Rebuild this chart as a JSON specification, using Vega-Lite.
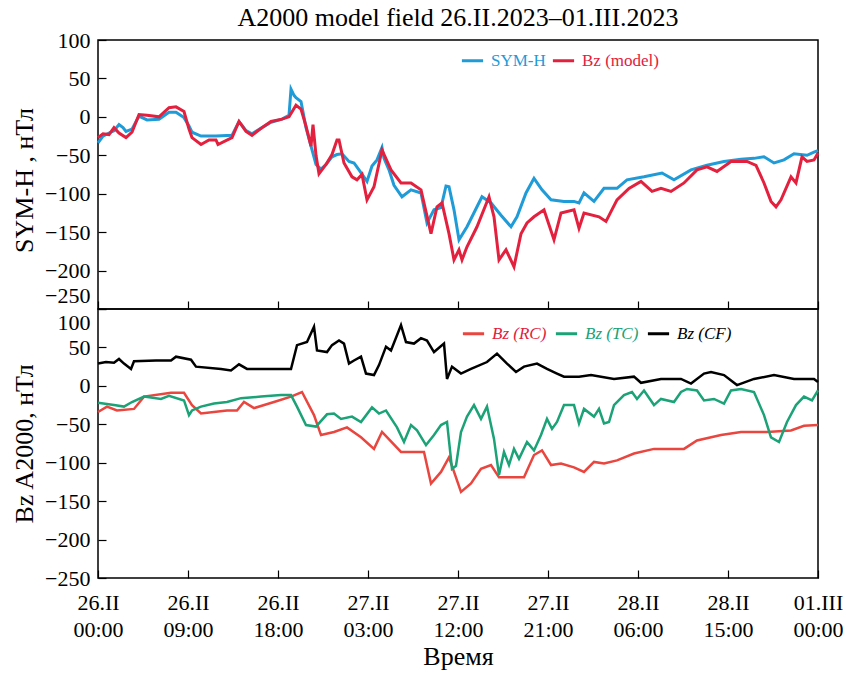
{
 "$schema": "https://vega.github.io/schema/vega-lite/v6.json",
 "background": "white",
 "padding": {"left": 10, "top": 5, "right": 5, "bottom": 0},
 "title": {"text": "A2000 model field 26.II.2023–01.III.2023", "font": "Liberation Serif", "fontSize": 26, "fontWeight": "normal", "anchor": "middle", "frame": "group", "offset": -3, "color": "black"},
 "config": {
  "font": "Liberation Serif",
  "view": {"stroke": "black", "strokeWidth": 1.5},
  "axis": {"domain": false, "grid": false, "tickColor": "black", "tickWidth": 1.2, "tickSize": -8, "labelColor": "black", "titleColor": "black", "labelFont": "Liberation Serif", "titleFont": "Liberation Serif", "labelFontSize": 22, "titleFontSize": 26, "titleFontWeight": "normal", "labelOverlap": false, "labelFlush": false},
  "legend": {"orient": "none", "direction": "horizontal", "title": null, "symbolType": "stroke", "symbolStrokeWidth": 3, "symbolSize": 450, "labelFont": "Liberation Serif", "labelFontSize": 17, "labelOffset": 6}
 },
 "datasets": {
  "top": [
   {"h":0,"s":"SYM-H","v":-34},{"h":0.5,"s":"SYM-H","v":-25},{"h":1.1,"s":"SYM-H","v":-21},{"h":1.6,"s":"SYM-H","v":-18},{"h":2.1,"s":"SYM-H","v":-10},{"h":2.5,"s":"SYM-H","v":-14},{"h":2.8,"s":"SYM-H","v":-19},{"h":3.4,"s":"SYM-H","v":-16},{"h":4.1,"s":"SYM-H","v":1},{"h":4.9,"s":"SYM-H","v":-4},{"h":6.1,"s":"SYM-H","v":-3},{"h":7.1,"s":"SYM-H","v":6},{"h":7.8,"s":"SYM-H","v":6},{"h":8.6,"s":"SYM-H","v":-1},{"h":9.1,"s":"SYM-H","v":-12},{"h":9.4,"s":"SYM-H","v":-20},{"h":10.3,"s":"SYM-H","v":-25},{"h":11.8,"s":"SYM-H","v":-25},{"h":13.4,"s":"SYM-H","v":-24},{"h":14.1,"s":"SYM-H","v":-6},{"h":14.8,"s":"SYM-H","v":-18},{"h":15.4,"s":"SYM-H","v":-22},{"h":16.4,"s":"SYM-H","v":-14},{"h":17.3,"s":"SYM-H","v":-7},{"h":18.4,"s":"SYM-H","v":-3},{"h":19.1,"s":"SYM-H","v":2},{"h":19.3,"s":"SYM-H","v":36},{"h":19.6,"s":"SYM-H","v":28},{"h":19.8,"s":"SYM-H","v":25},{"h":20.3,"s":"SYM-H","v":20},{"h":20.8,"s":"SYM-H","v":-14},{"h":21.3,"s":"SYM-H","v":-38},{"h":21.8,"s":"SYM-H","v":-62},{"h":22.3,"s":"SYM-H","v":-68},{"h":22.8,"s":"SYM-H","v":-62},{"h":23.4,"s":"SYM-H","v":-52},{"h":23.9,"s":"SYM-H","v":-49},{"h":24.4,"s":"SYM-H","v":-48},{"h":25.1,"s":"SYM-H","v":-58},{"h":25.6,"s":"SYM-H","v":-60},{"h":26.1,"s":"SYM-H","v":-69},{"h":26.9,"s":"SYM-H","v":-84},{"h":27.4,"s":"SYM-H","v":-64},{"h":27.9,"s":"SYM-H","v":-56},{"h":28.4,"s":"SYM-H","v":-40},{"h":28.6,"s":"SYM-H","v":-54},{"h":29.1,"s":"SYM-H","v":-69},{"h":29.6,"s":"SYM-H","v":-89},{"h":30.4,"s":"SYM-H","v":-104},{"h":31.3,"s":"SYM-H","v":-95},{"h":32.3,"s":"SYM-H","v":-99},{"h":32.9,"s":"SYM-H","v":-138},{"h":33.6,"s":"SYM-H","v":-121},{"h":34.3,"s":"SYM-H","v":-118},{"h":34.8,"s":"SYM-H","v":-90},{"h":35.1,"s":"SYM-H","v":-91},{"h":35.6,"s":"SYM-H","v":-121},{"h":36.1,"s":"SYM-H","v":-160},{"h":36.9,"s":"SYM-H","v":-143},{"h":37.4,"s":"SYM-H","v":-130},{"h":37.9,"s":"SYM-H","v":-117},{"h":38.4,"s":"SYM-H","v":-104},{"h":39.3,"s":"SYM-H","v":-112},{"h":40.3,"s":"SYM-H","v":-128},{"h":41.3,"s":"SYM-H","v":-143},{"h":41.9,"s":"SYM-H","v":-130},{"h":42.8,"s":"SYM-H","v":-99},{"h":43.6,"s":"SYM-H","v":-80},{"h":44.4,"s":"SYM-H","v":-95},{"h":45.3,"s":"SYM-H","v":-108},{"h":46.6,"s":"SYM-H","v":-110},{"h":47.6,"s":"SYM-H","v":-110},{"h":48.1,"s":"SYM-H","v":-112},{"h":48.6,"s":"SYM-H","v":-99},{"h":49.6,"s":"SYM-H","v":-110},{"h":50.6,"s":"SYM-H","v":-93},{"h":51.9,"s":"SYM-H","v":-93},{"h":52.9,"s":"SYM-H","v":-82},{"h":54.6,"s":"SYM-H","v":-78},{"h":56.4,"s":"SYM-H","v":-73},{"h":57.6,"s":"SYM-H","v":-82},{"h":59.3,"s":"SYM-H","v":-69},{"h":60.9,"s":"SYM-H","v":-63},{"h":62.6,"s":"SYM-H","v":-58},{"h":64.3,"s":"SYM-H","v":-55},{"h":65.6,"s":"SYM-H","v":-54},{"h":66.6,"s":"SYM-H","v":-52},{"h":67.6,"s":"SYM-H","v":-60},{"h":68.6,"s":"SYM-H","v":-56},{"h":69.6,"s":"SYM-H","v":-48},{"h":70.9,"s":"SYM-H","v":-50},{"h":71.6,"s":"SYM-H","v":-46},{"h":72,"s":"SYM-H","v":-44},
   {"h":0,"s":"Bz (model)","v":-27},{"h":0.5,"s":"Bz (model)","v":-22},{"h":1.1,"s":"Bz (model)","v":-23},{"h":1.6,"s":"Bz (model)","v":-14},{"h":2.1,"s":"Bz (model)","v":-21},{"h":2.8,"s":"Bz (model)","v":-27},{"h":3.4,"s":"Bz (model)","v":-20},{"h":4.1,"s":"Bz (model)","v":3},{"h":4.9,"s":"Bz (model)","v":2},{"h":6.1,"s":"Bz (model)","v":0},{"h":7.1,"s":"Bz (model)","v":12},{"h":7.8,"s":"Bz (model)","v":13},{"h":8.6,"s":"Bz (model)","v":7},{"h":9.1,"s":"Bz (model)","v":-16},{"h":9.4,"s":"Bz (model)","v":-27},{"h":10.3,"s":"Bz (model)","v":-36},{"h":11.1,"s":"Bz (model)","v":-30},{"h":11.8,"s":"Bz (model)","v":-30},{"h":12.0,"s":"Bz (model)","v":-36},{"h":13.4,"s":"Bz (model)","v":-27},{"h":14.1,"s":"Bz (model)","v":-6},{"h":14.8,"s":"Bz (model)","v":-19},{"h":15.4,"s":"Bz (model)","v":-24},{"h":16.4,"s":"Bz (model)","v":-14},{"h":17.3,"s":"Bz (model)","v":-6},{"h":18.4,"s":"Bz (model)","v":-3},{"h":19.1,"s":"Bz (model)","v":0},{"h":19.8,"s":"Bz (model)","v":15},{"h":20.3,"s":"Bz (model)","v":10},{"h":20.8,"s":"Bz (model)","v":-12},{"h":21.3,"s":"Bz (model)","v":-38},{"h":21.5,"s":"Bz (model)","v":-10},{"h":21.8,"s":"Bz (model)","v":-50},{"h":22.1,"s":"Bz (model)","v":-74},{"h":22.8,"s":"Bz (model)","v":-62},{"h":23.4,"s":"Bz (model)","v":-49},{"h":23.9,"s":"Bz (model)","v":-30},{"h":24.1,"s":"Bz (model)","v":-30},{"h":24.6,"s":"Bz (model)","v":-60},{"h":25.4,"s":"Bz (model)","v":-78},{"h":25.9,"s":"Bz (model)","v":-82},{"h":26.4,"s":"Bz (model)","v":-75},{"h":26.9,"s":"Bz (model)","v":-108},{"h":27.6,"s":"Bz (model)","v":-91},{"h":28.4,"s":"Bz (model)","v":-43},{"h":29.3,"s":"Bz (model)","v":-69},{"h":30.3,"s":"Bz (model)","v":-86},{"h":31.3,"s":"Bz (model)","v":-86},{"h":32.3,"s":"Bz (model)","v":-95},{"h":33.3,"s":"Bz (model)","v":-152},{"h":33.9,"s":"Bz (model)","v":-117},{"h":34.4,"s":"Bz (model)","v":-112},{"h":35.1,"s":"Bz (model)","v":-152},{"h":35.6,"s":"Bz (model)","v":-186},{"h":36.1,"s":"Bz (model)","v":-173},{"h":36.4,"s":"Bz (model)","v":-186},{"h":36.9,"s":"Bz (model)","v":-169},{"h":37.9,"s":"Bz (model)","v":-143},{"h":39.1,"s":"Bz (model)","v":-104},{"h":39.6,"s":"Bz (model)","v":-130},{"h":40.1,"s":"Bz (model)","v":-186},{"h":40.8,"s":"Bz (model)","v":-173},{"h":41.6,"s":"Bz (model)","v":-195},{"h":42.3,"s":"Bz (model)","v":-152},{"h":42.9,"s":"Bz (model)","v":-138},{"h":43.6,"s":"Bz (model)","v":-130},{"h":44.6,"s":"Bz (model)","v":-121},{"h":45.6,"s":"Bz (model)","v":-160},{"h":46.3,"s":"Bz (model)","v":-125},{"h":47.6,"s":"Bz (model)","v":-121},{"h":48.1,"s":"Bz (model)","v":-145},{"h":48.6,"s":"Bz (model)","v":-125},{"h":50.1,"s":"Bz (model)","v":-130},{"h":50.8,"s":"Bz (model)","v":-136},{"h":51.9,"s":"Bz (model)","v":-108},{"h":53.1,"s":"Bz (model)","v":-93},{"h":54.3,"s":"Bz (model)","v":-84},{"h":55.4,"s":"Bz (model)","v":-97},{"h":56.3,"s":"Bz (model)","v":-93},{"h":57.3,"s":"Bz (model)","v":-97},{"h":58.6,"s":"Bz (model)","v":-86},{"h":59.9,"s":"Bz (model)","v":-69},{"h":60.9,"s":"Bz (model)","v":-65},{"h":61.9,"s":"Bz (model)","v":-71},{"h":63.3,"s":"Bz (model)","v":-58},{"h":64.9,"s":"Bz (model)","v":-58},{"h":65.8,"s":"Bz (model)","v":-63},{"h":66.6,"s":"Bz (model)","v":-86},{"h":67.3,"s":"Bz (model)","v":-110},{"h":67.8,"s":"Bz (model)","v":-117},{"h":68.3,"s":"Bz (model)","v":-108},{"h":69.3,"s":"Bz (model)","v":-78},{"h":69.8,"s":"Bz (model)","v":-86},{"h":70.4,"s":"Bz (model)","v":-52},{"h":70.9,"s":"Bz (model)","v":-58},{"h":71.6,"s":"Bz (model)","v":-56},{"h":72,"s":"Bz (model)","v":-47}
  ],
  "bottom": [
   {"h":0,"s":"Bz (RC)","v":-34},{"h":0.9,"s":"Bz (RC)","v":-27},{"h":1.9,"s":"Bz (RC)","v":-32},{"h":3.6,"s":"Bz (RC)","v":-30},{"h":4.6,"s":"Bz (RC)","v":-14},{"h":7.3,"s":"Bz (RC)","v":-9},{"h":8.6,"s":"Bz (RC)","v":-9},{"h":9.4,"s":"Bz (RC)","v":-25},{"h":10.3,"s":"Bz (RC)","v":-36},{"h":12.9,"s":"Bz (RC)","v":-32},{"h":13.9,"s":"Bz (RC)","v":-32},{"h":14.6,"s":"Bz (RC)","v":-21},{"h":15.6,"s":"Bz (RC)","v":-29},{"h":17.6,"s":"Bz (RC)","v":-21},{"h":19.3,"s":"Bz (RC)","v":-14},{"h":20.4,"s":"Bz (RC)","v":-8},{"h":21.6,"s":"Bz (RC)","v":-38},{"h":22.3,"s":"Bz (RC)","v":-64},{"h":23.6,"s":"Bz (RC)","v":-60},{"h":24.9,"s":"Bz (RC)","v":-54},{"h":26.3,"s":"Bz (RC)","v":-67},{"h":27.6,"s":"Bz (RC)","v":-82},{"h":28.4,"s":"Bz (RC)","v":-60},{"h":30.3,"s":"Bz (RC)","v":-86},{"h":32.6,"s":"Bz (RC)","v":-86},{"h":33.3,"s":"Bz (RC)","v":-127},{"h":34.3,"s":"Bz (RC)","v":-112},{"h":35.1,"s":"Bz (RC)","v":-93},{"h":36.3,"s":"Bz (RC)","v":-138},{"h":37.3,"s":"Bz (RC)","v":-127},{"h":38.3,"s":"Bz (RC)","v":-108},{"h":39.3,"s":"Bz (RC)","v":-103},{"h":40.1,"s":"Bz (RC)","v":-119},{"h":42.6,"s":"Bz (RC)","v":-119},{"h":43.6,"s":"Bz (RC)","v":-90},{"h":44.4,"s":"Bz (RC)","v":-84},{"h":45.3,"s":"Bz (RC)","v":-103},{"h":46.3,"s":"Bz (RC)","v":-101},{"h":47.6,"s":"Bz (RC)","v":-106},{"h":48.6,"s":"Bz (RC)","v":-112},{"h":49.6,"s":"Bz (RC)","v":-99},{"h":50.6,"s":"Bz (RC)","v":-101},{"h":51.9,"s":"Bz (RC)","v":-97},{"h":53.6,"s":"Bz (RC)","v":-88},{"h":55.6,"s":"Bz (RC)","v":-82},{"h":58.6,"s":"Bz (RC)","v":-82},{"h":59.9,"s":"Bz (RC)","v":-71},{"h":62.3,"s":"Bz (RC)","v":-64},{"h":64.3,"s":"Bz (RC)","v":-60},{"h":66.9,"s":"Bz (RC)","v":-60},{"h":69.3,"s":"Bz (RC)","v":-58},{"h":70.6,"s":"Bz (RC)","v":-52},{"h":72,"s":"Bz (RC)","v":-51},
   {"h":0,"s":"Bz (TC)","v":-22},{"h":1.6,"s":"Bz (TC)","v":-25},{"h":2.6,"s":"Bz (TC)","v":-27},{"h":3.4,"s":"Bz (TC)","v":-21},{"h":4.6,"s":"Bz (TC)","v":-14},{"h":6.3,"s":"Bz (TC)","v":-17},{"h":7.1,"s":"Bz (TC)","v":-13},{"h":8.6,"s":"Bz (TC)","v":-19},{"h":9.1,"s":"Bz (TC)","v":-38},{"h":9.4,"s":"Bz (TC)","v":-32},{"h":10.3,"s":"Bz (TC)","v":-27},{"h":11.6,"s":"Bz (TC)","v":-23},{"h":12.9,"s":"Bz (TC)","v":-21},{"h":14.3,"s":"Bz (TC)","v":-16},{"h":16.3,"s":"Bz (TC)","v":-14},{"h":18.3,"s":"Bz (TC)","v":-12},{"h":19.3,"s":"Bz (TC)","v":-12},{"h":19.9,"s":"Bz (TC)","v":-27},{"h":20.8,"s":"Bz (TC)","v":-51},{"h":21.8,"s":"Bz (TC)","v":-53},{"h":22.9,"s":"Bz (TC)","v":-37},{"h":23.6,"s":"Bz (TC)","v":-36},{"h":24.3,"s":"Bz (TC)","v":-43},{"h":25.4,"s":"Bz (TC)","v":-40},{"h":26.3,"s":"Bz (TC)","v":-47},{"h":27.4,"s":"Bz (TC)","v":-28},{"h":28.1,"s":"Bz (TC)","v":-36},{"h":28.8,"s":"Bz (TC)","v":-32},{"h":29.9,"s":"Bz (TC)","v":-54},{"h":30.6,"s":"Bz (TC)","v":-73},{"h":31.3,"s":"Bz (TC)","v":-51},{"h":31.9,"s":"Bz (TC)","v":-58},{"h":32.8,"s":"Bz (TC)","v":-77},{"h":33.6,"s":"Bz (TC)","v":-64},{"h":34.3,"s":"Bz (TC)","v":-51},{"h":34.9,"s":"Bz (TC)","v":-47},{"h":35.4,"s":"Bz (TC)","v":-108},{"h":35.8,"s":"Bz (TC)","v":-104},{"h":36.3,"s":"Bz (TC)","v":-60},{"h":36.9,"s":"Bz (TC)","v":-40},{"h":37.6,"s":"Bz (TC)","v":-25},{"h":38.3,"s":"Bz (TC)","v":-43},{"h":38.9,"s":"Bz (TC)","v":-27},{"h":39.6,"s":"Bz (TC)","v":-69},{"h":40.1,"s":"Bz (TC)","v":-116},{"h":40.6,"s":"Bz (TC)","v":-86},{"h":41.1,"s":"Bz (TC)","v":-103},{"h":41.6,"s":"Bz (TC)","v":-82},{"h":42.1,"s":"Bz (TC)","v":-95},{"h":42.9,"s":"Bz (TC)","v":-73},{"h":43.6,"s":"Bz (TC)","v":-84},{"h":44.3,"s":"Bz (TC)","v":-64},{"h":44.9,"s":"Bz (TC)","v":-43},{"h":45.4,"s":"Bz (TC)","v":-56},{"h":45.9,"s":"Bz (TC)","v":-47},{"h":46.6,"s":"Bz (TC)","v":-25},{"h":47.6,"s":"Bz (TC)","v":-25},{"h":48.1,"s":"Bz (TC)","v":-49},{"h":48.6,"s":"Bz (TC)","v":-30},{"h":49.6,"s":"Bz (TC)","v":-40},{"h":50.1,"s":"Bz (TC)","v":-30},{"h":50.6,"s":"Bz (TC)","v":-49},{"h":51.1,"s":"Bz (TC)","v":-47},{"h":51.6,"s":"Bz (TC)","v":-25},{"h":52.6,"s":"Bz (TC)","v":-12},{"h":53.4,"s":"Bz (TC)","v":-8},{"h":53.9,"s":"Bz (TC)","v":-17},{"h":54.6,"s":"Bz (TC)","v":-6},{"h":55.6,"s":"Bz (TC)","v":-25},{"h":56.3,"s":"Bz (TC)","v":-17},{"h":57.6,"s":"Bz (TC)","v":-21},{"h":58.3,"s":"Bz (TC)","v":-8},{"h":58.9,"s":"Bz (TC)","v":-4},{"h":59.9,"s":"Bz (TC)","v":-6},{"h":60.6,"s":"Bz (TC)","v":-19},{"h":61.6,"s":"Bz (TC)","v":-17},{"h":62.6,"s":"Bz (TC)","v":-23},{"h":63.3,"s":"Bz (TC)","v":-6},{"h":64.3,"s":"Bz (TC)","v":-4},{"h":65.6,"s":"Bz (TC)","v":-8},{"h":66.6,"s":"Bz (TC)","v":-38},{"h":67.3,"s":"Bz (TC)","v":-67},{"h":68.1,"s":"Bz (TC)","v":-73},{"h":68.9,"s":"Bz (TC)","v":-47},{"h":69.8,"s":"Bz (TC)","v":-25},{"h":70.6,"s":"Bz (TC)","v":-14},{"h":71.4,"s":"Bz (TC)","v":-19},{"h":72,"s":"Bz (TC)","v":-6},
   {"h":0,"s":"Bz (CF)","v":29},{"h":0.8,"s":"Bz (CF)","v":31},{"h":1.6,"s":"Bz (CF)","v":30},{"h":2.1,"s":"Bz (CF)","v":35},{"h":2.6,"s":"Bz (CF)","v":29},{"h":3.3,"s":"Bz (CF)","v":22},{"h":3.6,"s":"Bz (CF)","v":32},{"h":5.8,"s":"Bz (CF)","v":33},{"h":7.3,"s":"Bz (CF)","v":33},{"h":7.8,"s":"Bz (CF)","v":38},{"h":9.3,"s":"Bz (CF)","v":34},{"h":9.8,"s":"Bz (CF)","v":25},{"h":12.3,"s":"Bz (CF)","v":22},{"h":13.3,"s":"Bz (CF)","v":20},{"h":14.1,"s":"Bz (CF)","v":28},{"h":14.9,"s":"Bz (CF)","v":22},{"h":17.3,"s":"Bz (CF)","v":22},{"h":19.3,"s":"Bz (CF)","v":22},{"h":19.9,"s":"Bz (CF)","v":53},{"h":20.9,"s":"Bz (CF)","v":57},{"h":21.6,"s":"Bz (CF)","v":77},{"h":21.9,"s":"Bz (CF)","v":46},{"h":22.9,"s":"Bz (CF)","v":44},{"h":23.4,"s":"Bz (CF)","v":53},{"h":24.1,"s":"Bz (CF)","v":59},{"h":24.6,"s":"Bz (CF)","v":55},{"h":25.1,"s":"Bz (CF)","v":29},{"h":25.6,"s":"Bz (CF)","v":33},{"h":26.3,"s":"Bz (CF)","v":38},{"h":26.8,"s":"Bz (CF)","v":16},{"h":27.6,"s":"Bz (CF)","v":14},{"h":28.1,"s":"Bz (CF)","v":27},{"h":28.8,"s":"Bz (CF)","v":51},{"h":29.3,"s":"Bz (CF)","v":46},{"h":30.3,"s":"Bz (CF)","v":79},{"h":30.8,"s":"Bz (CF)","v":57},{"h":31.6,"s":"Bz (CF)","v":55},{"h":32.3,"s":"Bz (CF)","v":62},{"h":32.9,"s":"Bz (CF)","v":59},{"h":33.6,"s":"Bz (CF)","v":44},{"h":34.6,"s":"Bz (CF)","v":55},{"h":34.9,"s":"Bz (CF)","v":9},{"h":35.4,"s":"Bz (CF)","v":25},{"h":36.3,"s":"Bz (CF)","v":16},{"h":37.3,"s":"Bz (CF)","v":22},{"h":38.9,"s":"Bz (CF)","v":31},{"h":39.9,"s":"Bz (CF)","v":42},{"h":40.9,"s":"Bz (CF)","v":29},{"h":41.8,"s":"Bz (CF)","v":18},{"h":42.6,"s":"Bz (CF)","v":25},{"h":43.9,"s":"Bz (CF)","v":29},{"h":44.9,"s":"Bz (CF)","v":22},{"h":45.9,"s":"Bz (CF)","v":16},{"h":46.6,"s":"Bz (CF)","v":12},{"h":48.1,"s":"Bz (CF)","v":12},{"h":49.3,"s":"Bz (CF)","v":14},{"h":51.6,"s":"Bz (CF)","v":9},{"h":53.6,"s":"Bz (CF)","v":12},{"h":54.3,"s":"Bz (CF)","v":4},{"h":56.3,"s":"Bz (CF)","v":9},{"h":58.3,"s":"Bz (CF)","v":9},{"h":59.3,"s":"Bz (CF)","v":3},{"h":60.6,"s":"Bz (CF)","v":16},{"h":61.3,"s":"Bz (CF)","v":18},{"h":62.6,"s":"Bz (CF)","v":14},{"h":63.9,"s":"Bz (CF)","v":1},{"h":65.6,"s":"Bz (CF)","v":9},{"h":67.6,"s":"Bz (CF)","v":14},{"h":69.6,"s":"Bz (CF)","v":9},{"h":71.6,"s":"Bz (CF)","v":9},{"h":72,"s":"Bz (CF)","v":5}
  ]
 },
 "spacing": 0,
 "bounds": "flush",
 "resolve": {"scale": {"color": "independent"}, "legend": {"color": "independent"}},
 "vconcat": [
  {
   "width": 720, "height": 269,
   "data": {"name": "top"},
   "mark": {"type": "line", "strokeWidth": 3},
   "encoding": {
    "x": {"field": "h", "type": "quantitative", "scale": {"domain": [0, 72], "nice": false, "zero": false}, "axis": {"values": [0, 9, 18, 27, 36, 45, 54, 63, 72], "labels": false, "title": null}},
    "y": {"field": "v", "type": "quantitative", "scale": {"domain": [-250, 100], "nice": false}, "axis": {"values": [-250, -200, -150, -100, -50, 0, 50, 100], "labelPadding": 16, "labelBaseline": {"condition": {"test": "datum.value == -250", "value": "bottom"}, "value": "middle"}, "labelOffset": {"condition": {"test": "datum.value == -250", "value": -2}, "value": 0}, "title": "SYM-H , нТл", "titlePadding": 7, "titleY": 140}},
    "color": {"field": "s", "type": "nominal", "scale": {"domain": ["SYM-H", "Bz (model)"], "range": ["#1f9bd8", "#e3203d"]},
     "legend": {"legendX": 362, "legendY": 8, "columnPadding": 0, "labelColor": {"expr": "datum.value == 'SYM-H' ? '#1f9bd8' : '#e3203d'"}}}
   }
  },
  {
   "width": 720, "height": 269,
   "data": {"name": "bottom"},
   "mark": {"type": "line", "strokeWidth": 2.5},
   "encoding": {
    "x": {"field": "h", "type": "quantitative", "scale": {"domain": [0, 72], "nice": false, "zero": false}, "axis": {"values": [0, 9, 18, 27, 36, 45, 54, 63, 72], "labelPadding": 22, "labelLineHeight": 27, "labelBaseline": "top", "labelExpr": "[['26.II','27.II','28.II','01.III'][floor(datum.value/24)], (datum.value%24 < 10 ? '0' : '') + (datum.value%24) + ':00']", "title": "Время", "titleFontSize": 26, "titlePadding": 3}},
    "y": {"field": "v", "type": "quantitative", "scale": {"domain": [-250, 100], "nice": false}, "axis": {"values": [-250, -200, -150, -100, -50, 0, 50, 100], "labelPadding": 16, "labelBaseline": {"condition": {"test": "datum.value == 100", "value": "top"}, "value": "middle"}, "labelOffset": {"condition": {"test": "datum.value == 100", "value": 3}, "value": 0}, "title": "Bz A2000, нТл", "titlePadding": 7}},
    "color": {"field": "s", "type": "nominal", "scale": {"domain": ["Bz (RC)", "Bz (TC)", "Bz (CF)"], "range": ["#e8463f", "#1ba277", "#000000"]},
     "legend": {"legendX": 363, "legendY": 12, "columnPadding": 2, "labelFontStyle": "italic", "labelColor": {"expr": "datum.value == 'Bz (RC)' ? '#e3203d' : datum.value == 'Bz (TC)' ? '#1ba277' : '#000000'"}}}
   }
  }
 ]
}
